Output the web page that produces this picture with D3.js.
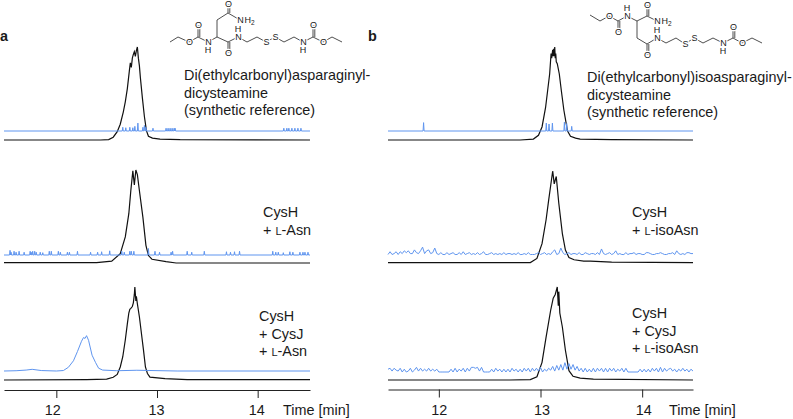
<!DOCTYPE html>
<html>
<head>
<meta charset="utf-8">
<script src="https://cdn.jsdelivr.net/npm/d3@7"></script>
<style>
  html, body { margin: 0; padding: 0; background: #fff; }
  text { font-family: "Liberation Sans", Arial, sans-serif; fill: #1a1a1a; }
</style>
</head>
<body>
<svg id="chart" width="793" height="419"></svg>
<script>
// tick labels
var tickValues = [12, 13, 14];

// black traces, [time in min, % of peak]
var a1Black = [[11.48,0],[12.44,0],[12.52,0.5],[12.565,3],[12.605,9],[12.635,17],[12.665,30],[12.685,41],[12.705,55],[12.725,74],[12.735,83],[12.745,78],[12.755,88],[12.765,92],[12.775,95],[12.785,90],[12.795,96],[12.805,100],[12.815,88],[12.825,80],[12.835,67],[12.855,45],[12.875,25],[12.895,10],[12.915,4],[12.955,2],[13.03,1],[13.23,0.3],[14.52,0]];
var a2Black = [[11.48,0.5],[12.4,0.5],[12.55,2],[12.635,10],[12.685,28],[12.72,53],[12.74,78],[12.76,99],[12.775,84],[12.79,100],[12.805,95],[12.825,78],[12.86,49],[12.89,19],[12.915,8],[12.95,4],[13.09,1.5],[13.19,0],[14.52,0]];
var a3Black = [[11.48,0],[12.3,0.5],[12.5,1],[12.565,3],[12.605,6],[12.635,14],[12.66,25],[12.685,43],[12.705,60],[12.72,72],[12.73,76],[12.74,77],[12.755,79],[12.765,83],[12.775,92],[12.78,100],[12.79,85],[12.795,90],[12.805,82],[12.825,68],[12.85,46],[12.865,33],[12.885,14],[12.905,7],[12.93,3],[13.08,1.5],[13.3,0.5],[14.52,0.5]];
var b1Black = [[11.5,0],[12.8,0],[12.93,1],[12.98,5],[13.015,14],[13.05,35],[13.07,53],[13.09,71],[13.104,93],[13.11,88],[13.12,97],[13.125,90],[13.13,98],[13.135,90],[13.14,100],[13.145,88],[13.15,93],[13.155,84],[13.165,82],[13.185,71],[13.205,53],[13.23,32],[13.265,10],[13.295,4],[13.345,2],[13.39,1],[13.7,0.3],[14.5,0]];
var b2Black = [[11.5,0.5],[12.7,0.5],[12.9,0.5],[12.965,5],[13.015,21],[13.055,47],[13.08,68],[13.105,88],[13.12,100],[13.135,86],[13.155,94],[13.18,65],[13.215,32],[13.245,14],[13.28,6],[13.33,3.5],[13.425,2],[13.49,2],[13.7,1],[14.5,0.5]];
var b3Black = [[11.5,0],[12.7,0],[12.9,0.5],[12.965,3.5],[13.015,19],[13.055,46],[13.1,75],[13.125,88],[13.145,92],[13.165,100],[13.175,80],[13.18,95],[13.19,72],[13.215,57],[13.245,32],[13.28,10],[13.32,4],[13.39,2],[13.52,1],[14.5,0]];

// blue traces with isolated spikes, [time, height]
var a1Spikes = [[12.66,4],[12.69,3.5],[12.73,4],[12.76,3.5],[12.78,5],[12.81,8.5],[12.86,4],[12.875,6],[12.89,4],[12.96,3],[13.09,3],[13.11,3],[13.13,3],[13.15,3],[13.17,3],[13.18,3],[14.26,3],[14.29,3],[14.31,3],[14.34,3],[14.37,3],[14.40,3],[14.43,3]];
var a2Spikes = [[11.54,5],[11.55,3],[11.58,4],[11.60,3],[11.63,4],[11.68,3],[11.74,4],[11.75,3],[11.765,4],[11.785,4],[11.80,3],[11.84,3],[11.865,2.5],[11.93,4],[11.95,4],[12.02,4],[12.04,3],[12.11,3],[12.13,3],[12.21,4],[12.34,3],[12.41,3],[12.45,3.5],[12.53,4.5],[12.65,4],[12.675,3],[12.73,4],[12.745,4],[12.77,4],[12.915,7],[12.98,4],[13.025,3],[13.14,3],[13.155,4],[13.30,4],[13.345,3],[13.47,4],[13.69,3.5],[13.73,3],[13.77,3.5],[13.82,4],[14.15,4],[14.18,3],[14.205,3],[14.255,2.5],[14.32,3.5],[14.35,3],[14.42,3],[14.45,3],[14.47,3],[14.50,3]];
var b1Spikes = [[11.85,9],[13.057,8.5],[13.084,7.5],[13.117,8.5],[13.235,9.5],[13.258,8],[13.307,5]];

// blue trace with the product peak, [time, height]
var a3Blue = [[11.48,0],[11.6,0.3],[11.7,1],[11.76,1.8],[11.85,0.5],[12.0,0],[12.07,0.5],[12.12,4],[12.17,11],[12.21,21],[12.25,32],[12.27,36],[12.285,35],[12.3,38],[12.32,33],[12.355,17],[12.39,9],[12.42,3],[12.46,1],[12.6,0.3],[12.8,0.8],[13.2,0],[14.52,0]];

// noisy blue traces, one reading every 0.02 min from 11.5 min
var b2Blue = [0,3,0,1,3,0,3,1,4,2,4,1,1,5,2,1,4,8,1,4,5,1,2,7,1,0,2,0,0,2,0,1,2,0,0,2,0,3,0,1,2,0,1,0,2,0,1,3,0,0,1,2,0,1,0,1,0,2,0,1,1,0,1,0,2,0,0,1,0,2,0,0,0,1,2,0,1,2,0,1,0,3,5,0,1,7,2,0,1,2,0,1,1,0,2,0,0,2,1,0,1,1,0,2,0,6,1,0,1,2,0,1,4,0,1,0,0,2,0,1,1,2,0,1,1,0,0,2,2,1,0,0,1,1,2,1,0,0,1,1,2,0,4,1,0,1,0,2,2,1,1];
var b3Blue = [3,4,1,4,2,1,4,0,3,0,1,4,0,2,5,1,4,1,3,1,4,1,3,1,3,0,0,0,0,0,0,3,0,4,0,3,1,4,0,4,1,5,5,4,5,1,5,0,0,0,0,3,0,4,1,3,0,3,0,3,0,4,1,3,0,3,0,4,1,4,0,4,1,4,1,5,0,3,1,4,2,6,1,7,2,8,2,10,3,9,3,8,2,6,1,4,0,4,0,3,0,4,0,4,1,4,0,4,0,4,1,4,0,3,1,4,0,4,0,0,0,0,0,0,3,0,3,0,3,0,4,1,4,0,5,0,4,1,3,4,1,3,0,3,1,4,1,3,0,3,1];

// molecule drawings: atoms [x, y, label], bonds [from, to, double?]
var atomsA = [[170,42],[178,37],[189,42,"O"],[198,37],[198,25,"O"],[208,42,"N"],[217,37],[217,20],[228,13],[228,4,"O"],[240,20,"N"],[228,42],[228,53,"O"],[238,37,"N"],[247,42],[257,37],[266,42,"S"],[275,37,"S"],[284,42],[294,37],[303,42,"N"],[313,37],[313,25,"O"],[323,42,"O"],[332,37],[342,42]];
var bondsA = [[0,1],[1,2],[2,3],[3,4,1],[3,5],[5,6],[6,7],[7,8],[8,9,1],[8,10],[6,11],[11,12,1],[11,13],[13,14],[14,15],[15,16],[16,17],[17,18],[18,19],[19,20],[20,21],[21,22,1],[21,23],[23,24],[24,25]];
var hLabelsA = [[208,50,"H"],[238,29,"H"],[303,50,"H"],[244.5,20,"H2"]];
var atomsB = [[590,15],[600,21],[609,16,"O"],[618,21],[618,32,"O"],[627,16,"N"],[637,21],[647,16],[647,5,"O"],[657,21,"N"],[637,38],[647,44],[647,55,"O"],[657,38,"N"],[666,43],[676,38],[685,44,"S"],[694,38,"S"],[703,43],[713,38],[723,43,"N"],[733,38],[733,27,"O"],[742,43,"O"],[752,38],[762,43]];
var bondsB = [[0,1],[1,2],[2,3],[3,4,1],[3,5],[5,6],[6,7],[7,8,1],[7,9],[6,10],[10,11],[11,12,1],[11,13],[13,14],[14,15],[15,16],[16,17],[17,18],[18,19],[19,20],[20,21],[21,22,1],[21,23],[23,24],[24,25]];
var hLabelsB = [[627,8,"H"],[657,30,"H"],[723,51,"H"],[661.5,21,"H2"]];

var colorBlack = '#111111';
var colorBlue = '#5f95ef';
var fontSize = '14.4px';

var svg = d3.select('#chart');

var panels = [
    {
        letter: 'a', letterX: 0, xDomain: [11.48, 14.52], xRange: [4, 310], axisY: 390,
        labelDx: [-4, -1, -1.5], timeX: 283,
        rows: [
            {black: a1Black, spikes: a1Spikes, base: 140, top: 47, blueBase: 131},
            {black: a2Black, spikes: a2Spikes, base: 263, top: 170, blueBase: 255},
            {black: a3Black, blue: a3Blue, base: 380, top: 287, blueBase: 371}
        ]
    },
    {
        letter: 'b', letterX: 368, xDomain: [11.5, 14.5], xRange: [388, 693], axisY: 389.5,
        labelDx: [0, 1, 1], timeX: 669,
        rows: [
            {black: b1Black, spikes: b1Spikes, base: 140, top: 47, blueBase: 131},
            {black: b2Black, noise: b2Blue, base: 263, top: 171, blueBase: 254.5},
            {black: b3Black, noise: b3Blue, base: 380, top: 287, blueBase: 372}
        ]
    }
];

// turn [time, height] spikes into a trace sitting on zero
function spikeTrace(spikes, domain) {
    var pts = [[domain[0], 0]];
    spikes.forEach(function(d) {
        pts.push([d[0] - 0.005, 0], d, [d[0] + 0.005, 0]);
    });
    pts.push([domain[1], 0]);
    return pts;
}

panels.forEach(function(p) {
    var x = d3.scaleLinear().domain(p.xDomain).range(p.xRange);
    var g = svg.append('g');

    p.rows.forEach(function(r) {
        var yBlack = d3.scaleLinear().domain([0, 100]).range([r.base, r.top]);
        var yBlue = d3.scaleLinear().domain([0, 100]).range([r.blueBase, r.blueBase - (r.base - r.top)]);

        var blueData;
        if (r.spikes) {
            blueData = spikeTrace(r.spikes, p.xDomain);
        } else if (r.blue) {
            blueData = r.blue;
        } else {
            blueData = r.noise.map(function(v, i) { return [11.5 + i * 0.02, v]; });
        }

        g.append('path')
            .attr('d', d3.line().x(function(d) { return x(d[0]); }).y(function(d) { return yBlack(d[1]); })(r.black))
            .style('fill', 'none')
            .style('stroke', colorBlack)
            .style('stroke-width', 1.2);

        g.append('path')
            .attr('d', d3.line().x(function(d) { return x(d[0]); }).y(function(d) { return yBlue(d[1]); })(blueData))
            .style('fill', 'none')
            .style('stroke', colorBlue)
            .style('stroke-width', 1);
    });

    var axis = d3.axisBottom(x).tickValues(tickValues).tickSize(8).tickPadding(7).tickSizeOuter(0).tickFormat(d3.format('d'));
    var ax = g.append('g')
        .attr('transform', 'translate(0,' + p.axisY + ')')
        .call(axis);
    ax.selectAll('path, line').style('stroke', '#222').style('stroke-width', 1);
    ax.selectAll('text')
        .attr('dx', function(d, i) { return p.labelDx[i]; })
        .style('font-family', '"Liberation Sans", Arial, sans-serif')
        .style('font-size', fontSize);

    g.append('text').attr('x', p.timeX).attr('y', 415).style('font-size', fontSize).text('Time [min]');
    g.append('text').attr('x', p.letterX).attr('y', 41).style('font-size', fontSize).style('font-weight', 'bold').text(p.letter);
});

// right hand captions, small capital L in its own tspan
var captions = [
    {x: 184, y: 80, lines: ['Di(ethylcarbonyl)asparaginyl-', 'dicysteamine', '(synthetic reference)']},
    {x: 263, y: 217, lines: ['CysH', '+ |-Asn']},
    {x: 259, y: 321, lines: ['CysH', '+ CysJ', '+ |-Asn']},
    {x: 587, y: 82, lines: ['Di(ethylcarbonyl)isoasparaginyl-', 'dicysteamine', '(synthetic reference)']},
    {x: 632, y: 217, lines: ['CysH', '+ |-isoAsn']},
    {x: 632, y: 318, lines: ['CysH', '+ CysJ', '+ |-isoAsn']}
];

captions.forEach(function(c) {
    c.lines.forEach(function(line, i) {
        var t = svg.append('text')
            .attr('x', c.x)
            .attr('y', c.y + i * 17.5)
            .style('font-size', fontSize);
        var parts = line.split('|');
        if (parts.length === 1) {
            t.text(line);
        } else {
            t.append('tspan').text(parts[0]);
            t.append('tspan').style('font-size', '11px').text('L');
            t.append('tspan').text(parts[1]);
        }
    });
});

function drawMolecule(atoms, bonds, hLabels) {
    var m = svg.append('g');
    bonds.forEach(function(b) {
        var a0 = atoms[b[0]], a1 = atoms[b[1]];
        m.append('line')
            .attr('x1', a0[0]).attr('y1', a0[1]).attr('x2', a1[0]).attr('y2', a1[1])
            .style('stroke', '#222').style('stroke-width', 0.8);
        if (b[2]) {
            // second stroke of a double bond
            m.append('line')
                .attr('x1', a0[0] + 1.8).attr('y1', a0[1]).attr('x2', a1[0] + 1.8).attr('y2', a1[1])
                .style('stroke', '#222').style('stroke-width', 0.8);
        }
    });
    atoms.filter(function(a) { return a[2]; }).forEach(function(a) {
        m.append('text')
            .attr('x', a[0] + 0.6).attr('y', a[1] + 3.3)
            .attr('text-anchor', 'middle')
            .style('font-size', '9px')
            .style('paint-order', 'stroke')
            .style('stroke', '#fff')
            .style('stroke-width', 2.5)
            .text(a[2]);
    });
    hLabels.forEach(function(h) {
        var t = m.append('text')
            .attr('x', h[0]).attr('y', h[1] + 3.3)
            .attr('text-anchor', h[2] === 'H2' ? 'start' : 'middle')
            .style('font-size', '9px');
        t.append('tspan').text('H');
        if (h[2] === 'H2') {
            t.append('tspan').attr('dy', 2).style('font-size', '6.5px').text('2');
        }
    });
}

drawMolecule(atomsA, bondsA, hLabelsA);
drawMolecule(atomsB, bondsB, hLabelsB);
</script>
</body>
</html>
